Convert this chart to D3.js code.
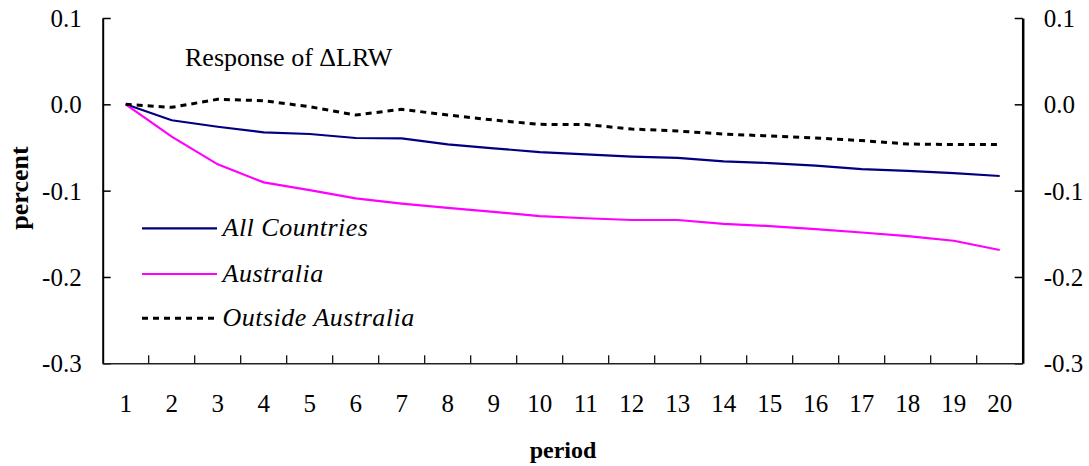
<!DOCTYPE html>
<html><head><meta charset="utf-8">
<script src="https://cdn.jsdelivr.net/npm/d3@7/dist/d3.min.js"></script>
<style>
body{margin:0;background:#fff;}
svg{display:block;}
text{font-family:"Liberation Serif","Times New Roman",serif;fill:#000;}
</style></head>
<body>
<svg id="chart" width="1089" height="466"></svg>
<script>
const periods = ["1","2","3","4","5","6","7","8","9","10","11","12","13","14","15","16","17","18","19","20"];
const allCountries = [0,-0.0185,-0.026,-0.0325,-0.0344,-0.039,-0.0394,-0.0464,-0.051,-0.0553,-0.058,-0.0605,-0.062,-0.066,-0.068,-0.071,-0.075,-0.077,-0.0796,-0.083];
const australia = [0,-0.0375,-0.0695,-0.0904,-0.0993,-0.109,-0.115,-0.120,-0.1245,-0.1294,-0.132,-0.134,-0.134,-0.1385,-0.141,-0.1445,-0.1485,-0.1526,-0.158,-0.1688];
const outsideAustralia = [0,-0.0035,0.0058,0.0042,-0.0028,-0.0124,-0.0058,-0.0124,-0.0182,-0.0232,-0.0234,-0.0286,-0.031,-0.0344,-0.0367,-0.039,-0.042,-0.046,-0.0466,-0.0464];
const yTicks = [0.1,0.0,-0.1,-0.2,-0.3];
const seriesNames = ["All Countries","Australia","Outside Australia"];
const titleText = "Response of \u0394LRW";

const svg = d3.select("#chart");
const L = 102.7, R = 1022.7, T = 18, B = 363.3;
const x = d3.scaleBand().domain(periods).range([L, R]).padding(0);
const y = d3.scaleLinear().domain([-0.3, 0.1]).range([B, T]);
const cx = p => x(p) + x.bandwidth()/2;
const fmt = d => d.toFixed(1).replace("\u2212","-");

// left axis
const leftAxis = d3.axisLeft(y).tickValues(yTicks).tickFormat(fmt).tickSizeInner(-8).tickSizeOuter(0).tickPadding(21);
const gl = svg.append("g").attr("transform", `translate(${L},0)`).call(leftAxis);
gl.select(".domain").attr("stroke","#000").attr("stroke-width",2);
gl.selectAll(".tick line").attr("stroke","#000").attr("stroke-width",1.5);
gl.selectAll(".tick text").attr("font-size",25).attr("font-family","Liberation Serif").attr("dy","0.34em");

// right axis
const rightAxis = d3.axisRight(y).tickValues(yTicks).tickFormat(fmt).tickSizeInner(-8).tickSizeOuter(0).tickPadding(21);
const gr = svg.append("g").attr("transform", `translate(${R},0)`).call(rightAxis);
gr.select(".domain").attr("stroke","#000").attr("stroke-width",2.5);
gr.selectAll(".tick line").attr("stroke","#000").attr("stroke-width",1.5);
gr.selectAll(".tick text").attr("font-size",25).attr("font-family","Liberation Serif").attr("dy","0.34em");

// bottom axis: labels at band centres, ticks at band boundaries pointing up
const bottomAxis = d3.axisBottom(x).tickSize(0).tickPadding(31);
const gb = svg.append("g").attr("transform", `translate(0,${B})`).call(bottomAxis);
gb.select(".domain").attr("stroke","#222").attr("stroke-width",1.5);
gb.selectAll(".tick text").attr("font-size",25).attr("font-family","Liberation Serif");
gb.selectAll(".bnd").data(periods.slice(1)).enter().append("line")
  .attr("x1", d => x(d)).attr("x2", d => x(d))
  .attr("y1", 0).attr("y2", -8).attr("stroke","#000").attr("stroke-width",1.2);

// lines
const line = d3.line().x((d,i) => cx(periods[i])).y(d => y(d));
const series = [
  {name: seriesNames[0], values: allCountries, color: "#000080", width: 2.2, dash: null},
  {name: seriesNames[1], values: australia, color: "#FF00FF", width: 2.2, dash: null},
  {name: seriesNames[2], values: outsideAustralia, color: "#000000", width: 3, dash: "6,5"}
];
series.forEach(s => {
  svg.append("path").datum(s.values).attr("d", line)
    .attr("fill","none").attr("stroke", s.color).attr("stroke-width", s.width)
    .attr("stroke-dasharray", s.dash);
});

// title
svg.append("text").attr("x",185).attr("y",66).attr("font-size",26).text(titleText);

// legend
const legY = [228.3, 274, 318.3];
series.forEach((s,i) => {
  svg.append("line").attr("x1",142).attr("x2",217).attr("y1",legY[i]).attr("y2",legY[i])
    .attr("stroke", s.color).attr("stroke-width", s.width).attr("stroke-dasharray", s.dash);
  svg.append("text").attr("x",222.5).attr("y",legY[i]+8).attr("font-size",26)
    .attr("font-style","italic").attr("letter-spacing",0.5).text(s.name);
});

// axis titles
svg.append("text").attr("x",563).attr("y",458).attr("text-anchor","middle")
  .attr("font-size",24).attr("font-weight","bold").text("period");
svg.append("text").attr("transform","translate(28,188) rotate(-90)").attr("text-anchor","middle")
  .attr("font-size",26).attr("font-weight","bold").text("percent");
</script>
</body></html>
